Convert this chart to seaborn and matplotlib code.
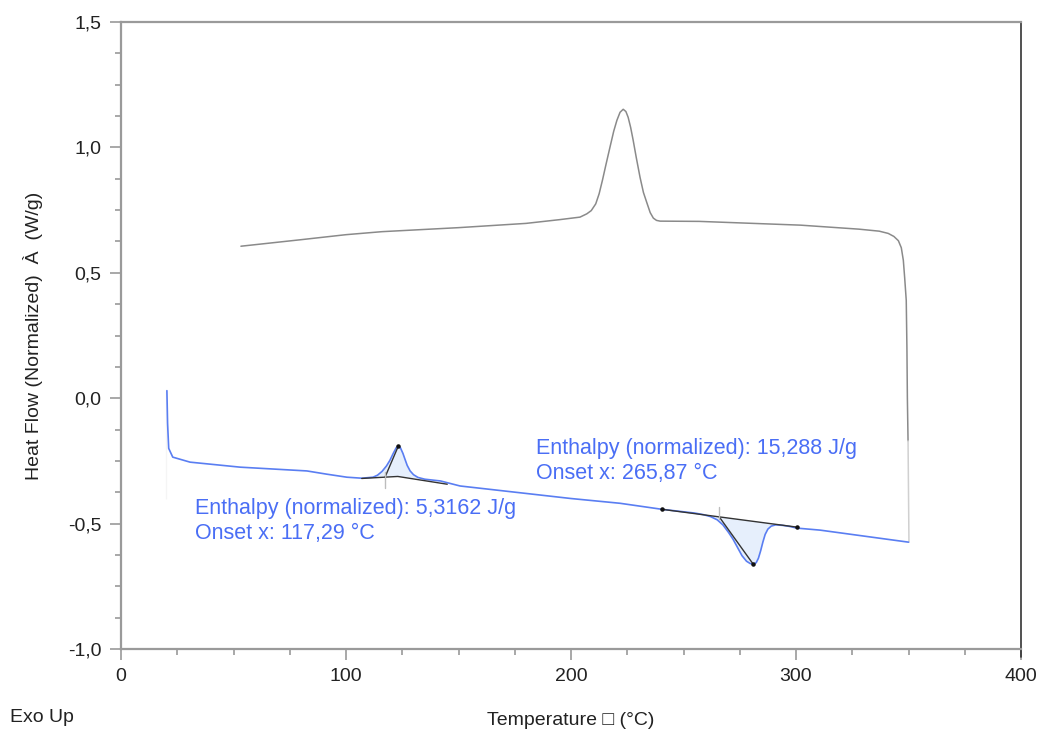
import numpy as np
import pandas as pd
import matplotlib
matplotlib.use("Agg")
import matplotlib.pyplot as plt
from matplotlib.ticker import MultipleLocator, FuncFormatter
import seaborn as sns

# ---- data: DSC heat-flow curves (temperature in °C, heat flow in W/g) ----
cool_T = [53.3, 80, 100, 116, 150, 180, 195, 204, 207, 209, 211, 212.5, 214,
          215.5, 217.3, 219, 220.4, 221.8, 223.2, 224.4, 225.4, 226.5, 227.6,
          229, 230.7, 232.2, 233.8, 235.2, 236.6, 238, 239.6, 257, 302, 328,
          337, 341, 343.5, 345.5, 346.8, 347.7, 348.3, 349, 349.3, 349.5, 349.8]
cool_HF = [0.606, 0.632, 0.652, 0.664, 0.680, 0.697, 0.712, 0.722, 0.735, 0.748,
           0.775, 0.815, 0.870, 0.930, 1.000, 1.065, 1.108, 1.140, 1.152, 1.143,
           1.120, 1.080, 1.030, 0.960, 0.880, 0.820, 0.777, 0.740, 0.718, 0.709,
           0.706, 0.705, 0.690, 0.674, 0.666, 0.657, 0.645, 0.628, 0.600, 0.550,
           0.480, 0.390, 0.200, 0.000, -0.170]

tail_T = [349.8, 350.2]
tail_HF = [-0.170, -0.574]

start_T = [20.2, 20.2]
start_HF = [0.03, -0.40]

heat_T = [20.4, 20.7, 21.2, 23, 30.7, 53, 82.6, 91.5, 100.4, 107, 112, 114, 116,
          118, 119.5, 121, 122.3, 123.3, 124.2, 125.3, 126.2, 127.2, 128.5, 130,
          132, 135, 142, 150.7, 200, 221.8, 240.4, 255, 258.7, 262, 265, 267.5,
          270, 272, 274, 276, 278, 279.6, 281, 282.3, 283.3, 284.3, 285.3, 286.3,
          287.5, 289, 291, 294, 297, 300.4, 310.7, 350]
heat_HF = [0.03, -0.10, -0.20, -0.235, -0.255, -0.275, -0.290, -0.303, -0.315,
           -0.319, -0.315, -0.307, -0.292, -0.270, -0.248, -0.220, -0.198, -0.190,
           -0.198, -0.220, -0.243, -0.268, -0.290, -0.305, -0.316, -0.323, -0.330,
           -0.350, -0.400, -0.419, -0.443, -0.458, -0.464, -0.472, -0.485, -0.505,
           -0.535, -0.562, -0.595, -0.628, -0.650, -0.659, -0.662, -0.656, -0.638,
           -0.608, -0.573, -0.543, -0.522, -0.510, -0.505, -0.507, -0.511, -0.518,
           -0.526, -0.574]

# peak integration: baselines, tangents, onset markers
base1_T = [107, 123, 145]
base1_HF = [-0.320, -0.312, -0.343]
tan1_T = [117.29, 123.3]
tan1_HF = [-0.316, -0.190]
onset1_T = [117.29, 117.29]
onset1_HF = [-0.295, -0.359]

base2_T = [240.4, 300.4]
base2_HF = [-0.443, -0.514]
tan2_T = [265.87, 281]
tan2_HF = [-0.473, -0.662]
onset2_T = [265.87, 265.87]
onset2_HF = [-0.435, -0.482]

peak1_range = (112, 135)
peak2_range = (258.7, 297)
peak2_close_T = [297, 258.7]
peak2_close_HF = [-0.508, -0.465]

labels1 = ["Enthalpy (normalized): 5,3162 J/g", "Onset x: 117,29 °C"]
labels2 = ["Enthalpy (normalized): 15,288 J/g", "Onset x: 265,87 °C"]

# ---- style ----
sns.set_theme(style="white")
plt.rcParams["font.family"] = ["Liberation Sans", "DejaVu Sans"]

BLUE = "#5a7ef2"
TEXT_BLUE = "#4a6ef5"
GRAY = "#8a8a8a"
SPINE = "#9a9a9a"
FILL = "#e6effc"

fig = plt.figure(figsize=(10.43, 7.34), dpi=100)
ax = fig.add_axes([121 / 1043, 1 - 649 / 734, 900 / 1043, 627 / 734])

cool = pd.DataFrame({"T": cool_T, "HF": cool_HF})
heat = pd.DataFrame({"T": heat_T, "HF": heat_HF})

sns.lineplot(data=cool, x="T", y="HF", sort=False, color=GRAY, lw=1.1, ax=ax)
sns.lineplot(x=tail_T, y=tail_HF, sort=False, color="#d0d0d0", lw=1.1, ax=ax)
sns.lineplot(x=start_T, y=start_HF, sort=False, color="#cfcfcf", lw=1.1, ax=ax)

# shaded integration areas between the curve and its baseline
p1 = heat[(heat["T"] >= peak1_range[0]) & (heat["T"] <= peak1_range[1])]
ax.fill(list(p1["T"]) + [base1_T[1]], list(p1["HF"]) + [base1_HF[1]],
        color=FILL, lw=0, zorder=1)
p2 = heat[(heat["T"] >= peak2_range[0]) & (heat["T"] <= peak2_range[1])]
ax.fill(list(p2["T"]) + peak2_close_T, list(p2["HF"]) + peak2_close_HF,
        color=FILL, lw=0, zorder=1)

sns.lineplot(data=heat, x="T", y="HF", sort=False, color=BLUE, lw=1.2, ax=ax)

for bt, bh in [(base1_T, base1_HF), (base2_T, base2_HF), (tan1_T, tan1_HF), (tan2_T, tan2_HF)]:
    ax.plot(bt, bh, color="#333333", lw=1.0, zorder=3)
for ot, oh in [(onset1_T, onset1_HF), (onset2_T, onset2_HF)]:
    ax.plot(ot, oh, color="#bdbdbd", lw=1.0, zorder=3)
ax.scatter([tan1_T[1], base2_T[0], base2_T[1], tan2_T[1]],
           [tan1_HF[1], base2_HF[0], base2_HF[1], tan2_HF[1]],
           s=5, color="#111111", zorder=4)

ax.text(33, -0.44, labels1[0], color=TEXT_BLUE, fontsize=15.5, va="center")
ax.text(33, -0.54, labels1[1], color=TEXT_BLUE, fontsize=15.5, va="center")
ax.text(184.5, -0.20, labels2[0], color=TEXT_BLUE, fontsize=15.5, va="center")
ax.text(184.5, -0.30, labels2[1], color=TEXT_BLUE, fontsize=15.5, va="center")

# ---- axes ----
ax.set_xlim(0, 400)
ax.set_ylim(-1.0, 1.5)
ax.xaxis.set_major_locator(MultipleLocator(100))
ax.xaxis.set_minor_locator(MultipleLocator(25))
ax.yaxis.set_major_locator(MultipleLocator(0.5))
ax.yaxis.set_minor_locator(MultipleLocator(0.125))
ax.xaxis.set_major_formatter(FuncFormatter(lambda v, p: f"{v:.0f}"))
ax.yaxis.set_major_formatter(FuncFormatter(lambda v, p: f"{v:.1f}".replace(".", ",").replace("−", "-")))
ax.tick_params(axis="both", which="major", direction="out", length=8, width=1.2,
               color=SPINE, labelsize=14, labelcolor="#222222", pad=6,
               bottom=True, left=True)
ax.tick_params(axis="both", which="minor", direction="out", length=4, width=1.2,
               color=SPINE, bottom=True, left=True)

for side in ["left", "bottom", "top"]:
    ax.spines[side].set_color(SPINE)
    ax.spines[side].set_linewidth(1.6)
ax.spines["right"].set_color("#333333")
ax.spines["right"].set_linewidth(1.2)
ax.plot([1, 1], [0, -0.013], transform=ax.transAxes, color="#333333", lw=1.2, clip_on=False)

ax.set_xlabel("Temperature \u25a1 (°C)", fontsize=14, color="#222222", labelpad=19)
ax.set_ylabel("Heat Flow (Normalized)  À  (W/g)", fontsize=14, color="#222222", labelpad=18)
fig.text(10 / 1043, 1 - 718 / 734, "Exo Up", fontsize=14, color="#222222", va="center", ha="left")

fig.savefig("out.png", dpi=100)
